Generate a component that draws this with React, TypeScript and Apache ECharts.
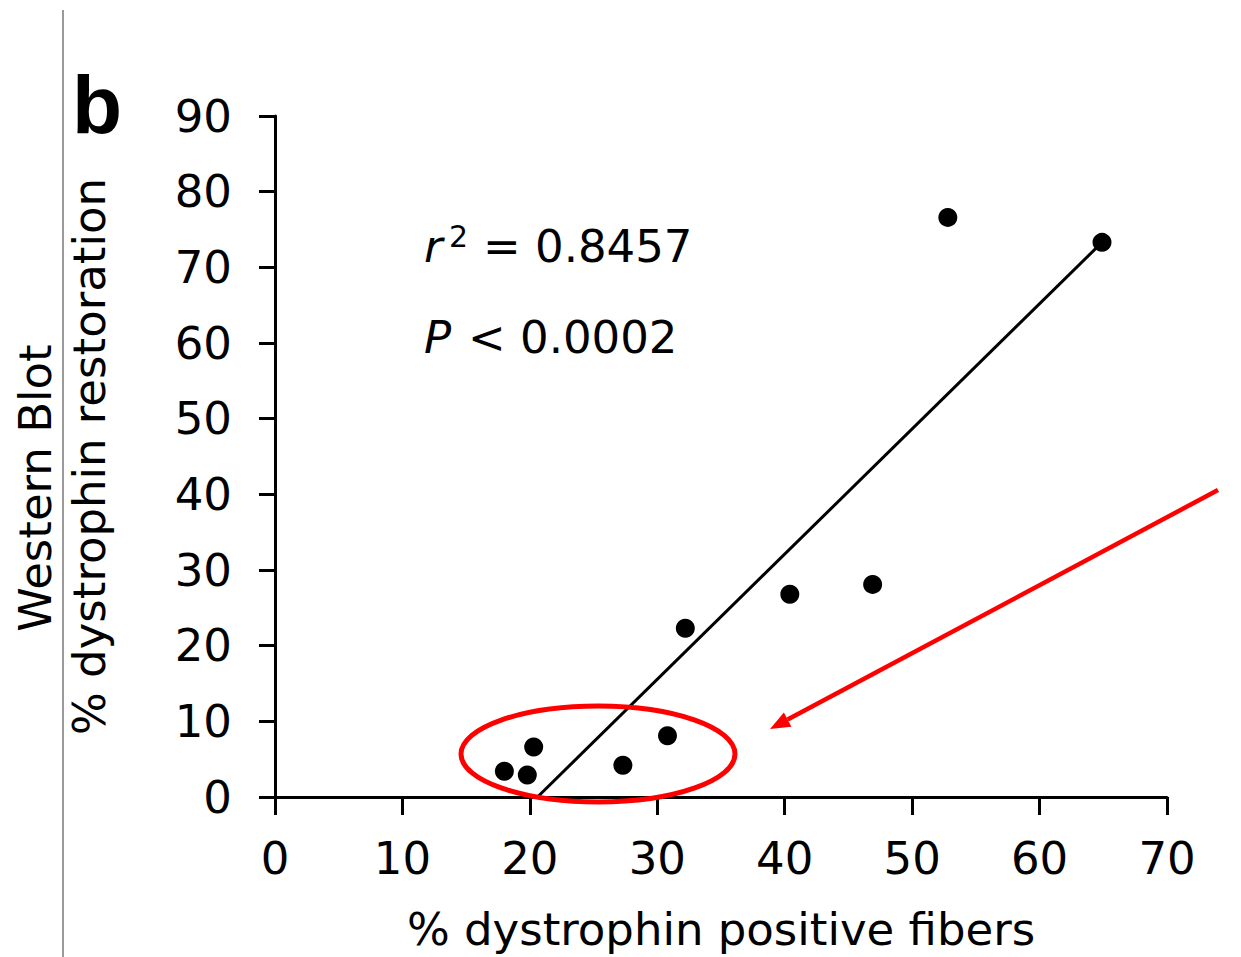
import React, { useEffect, useRef } from "react";
import * as echarts from "echarts";

const xTicks = [0, 10, 20, 30, 40, 50, 60, 70];
const yTicks = [0, 10, 20, 30, 40, 50, 60, 70, 80, 90];
const pointsX = [18.0, 19.8, 20.3, 27.3, 30.8, 32.2, 40.4, 46.9, 52.8, 64.9];
const pointsY = [3.4, 2.9, 6.6, 4.2, 8.1, 22.3, 26.8, 28.1, 76.6, 73.3];
const fitX = [20.6, 64.9];
const fitY = [0, 73.3];
const xTitle = "% dystrophin positive fibers";
const yTitle = "% dystrophin restoration";
const sideTitle = "Western Blot";
const panelLabel = "b";
const r2Text = "= 0.8457";
const pText = "< 0.0002";

const FONT = "DejaVu Sans, Liberation Sans, Arial, sans-serif";
const BOLDFONT = "Liberation Sans, Arial, sans-serif";
const FS = 45;

export default function App() {
  const ref = useRef<HTMLDivElement>(null);
  useEffect(() => {
    if (!ref.current) return;
    const chart = echarts.init(ref.current, null, { renderer: "svg" });
    const tip = [770, 729];
    const start = [1218, 490];
    const dx = tip[0] - start[0];
    const dy = tip[1] - start[1];
    const len = Math.sqrt(dx * dx + dy * dy);
    const ux = dx / len;
    const uy = dy / len;
    const headLen = 20;
    const headHalf = 8;
    const bx = tip[0] - ux * headLen;
    const by = tip[1] - uy * headLen;
    const px = -uy * headHalf;
    const py = ux * headHalf;

    chart.setOption({
      animation: false,
      backgroundColor: "#ffffff",
      textStyle: { fontFamily: FONT },
      grid: { left: 275, right: 74, top: 116, bottom: 155 },
      xAxis: {
        type: "value",
        min: xTicks[0],
        max: xTicks[xTicks.length - 1],
        interval: 10,
        name: xTitle,
        nameLocation: "middle",
        nameGap: 110,
        nameTextStyle: { fontSize: FS, color: "#000", fontFamily: FONT },
        axisLine: { show: true, lineStyle: { color: "#000", width: 3 } },
        axisTick: { show: true, length: 18, lineStyle: { color: "#000", width: 3 } },
        axisLabel: { fontSize: FS, color: "#000", margin: 39, fontFamily: FONT },
        splitLine: { show: false },
      },
      yAxis: {
        type: "value",
        min: yTicks[0],
        max: yTicks[yTicks.length - 1],
        interval: 10,
        name: yTitle,
        nameLocation: "middle",
        nameGap: 163,
        nameRotate: 90,
        nameTextStyle: { fontSize: FS, color: "#000", fontFamily: FONT },
        axisLine: { show: true, lineStyle: { color: "#000", width: 3 } },
        axisTick: { show: true, length: 16, lineStyle: { color: "#000", width: 3 } },
        axisLabel: { fontSize: FS, color: "#000", margin: 43, fontFamily: FONT },
        splitLine: { show: false },
      },
      series: [
        {
          type: "line",
          data: fitX.map((x, i) => [x, fitY[i]]),
          symbol: "none",
          lineStyle: { color: "#000", width: 3 },
          z: 2,
        },
        {
          type: "scatter",
          data: pointsX.map((x, i) => [x, pointsY[i]]),
          symbol: "circle",
          symbolSize: 19,
          itemStyle: { color: "#000", opacity: 1 },
          z: 3,
        },
      ],
      graphic: [
        {
          type: "line",
          shape: { x1: 63, y1: 10, x2: 63, y2: 957 },
          style: { stroke: "#9a9a9a", lineWidth: 2 },
        },
        {
          type: "text",
          x: 72,
          y: 104,
          style: {
            text: panelLabel,
            font: `bold 82px ${BOLDFONT}`,
            fill: "#000",
            verticalAlign: "middle",
            align: "left",
          },
        },
        {
          type: "text",
          x: 35,
          y: 488,
          rotation: Math.PI / 2,
          style: {
            text: sideTitle,
            font: `${FS}px ${FONT}`,
            fill: "#000",
            align: "center",
            verticalAlign: "middle",
          },
        },
        {
          type: "text",
          x: 424,
          y: 246,
          style: { text: "r", font: `italic ${FS}px ${FONT}`, fill: "#000", verticalAlign: "middle", align: "left" },
        },
        {
          type: "text",
          x: 449,
          y: 236,
          style: { text: "2", font: `30px ${FONT}`, fill: "#000", verticalAlign: "middle", align: "left" },
        },
        {
          type: "text",
          x: 483,
          y: 246,
          style: { text: r2Text, font: `${FS}px ${FONT}`, fill: "#000", verticalAlign: "middle", align: "left" },
        },
        {
          type: "text",
          x: 424,
          y: 337,
          style: { text: "P", font: `italic ${FS}px ${FONT}`, fill: "#000", verticalAlign: "middle", align: "left" },
        },
        {
          type: "text",
          x: 468,
          y: 337,
          style: { text: pText, font: `${FS}px ${FONT}`, fill: "#000", verticalAlign: "middle", align: "left" },
        },
        {
          type: "ellipse",
          shape: { cx: 598, cy: 754, rx: 137, ry: 48 },
          style: { fill: "none", stroke: "#ff0000", lineWidth: 5 },
          z: 10,
        },
        {
          type: "line",
          shape: { x1: start[0], y1: start[1], x2: bx, y2: by },
          style: { stroke: "#ff0000", lineWidth: 4.5 },
          z: 10,
        },
        {
          type: "polygon",
          shape: {
            points: [
              [tip[0], tip[1]],
              [bx + px, by + py],
              [bx - px, by - py],
            ],
          },
          style: { fill: "#ff0000" },
          z: 10,
        },
      ],
    });
    return () => chart.dispose();
  }, []);
  return (
    <div
      ref={ref}
      style={{ position: "fixed", left: 0, top: 0, width: 1241, height: 957, background: "#fff" }}
    />
  );
}
